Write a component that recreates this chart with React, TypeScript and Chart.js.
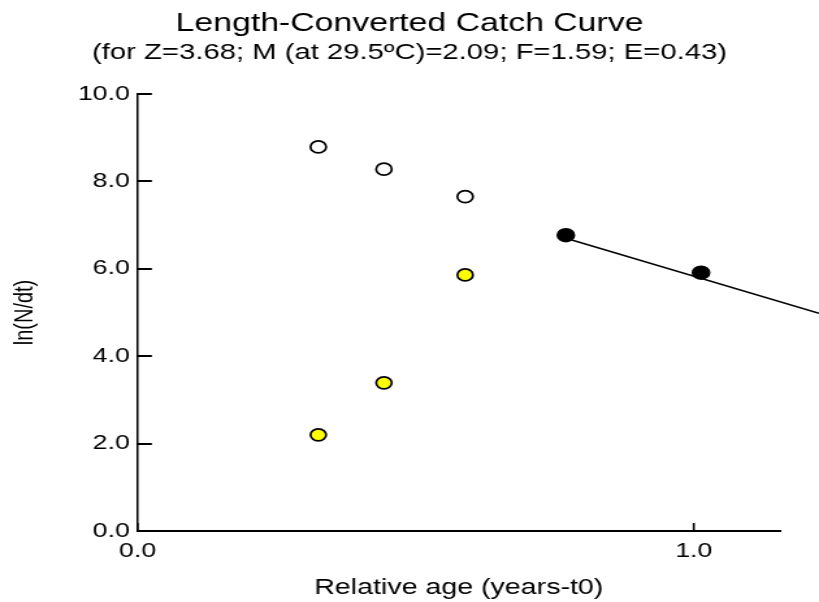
import React, { useEffect, useRef } from 'react';
import { Chart, registerables } from 'chart.js';

Chart.register(...registerables);

// ---- text ----
const TITLE = 'Length-Converted Catch Curve';
const SUBTITLE = '(for Z=3.68; M (at 29.5ºC)=2.09; F=1.59; E=0.43)';
const X_TITLE = 'Relative age (years-t0)';
const Y_TITLE = 'ln(N/dt)';

// ---- data ----
const ageLeft = [0.325, 0.443, 0.589];          // relative age of left-side points
const lnNdtOpen = [8.79, 8.28, 7.65];           // open circles (not used in regression)
const lnNdtYellow = [2.2, 3.39, 5.86];          // yellow circles (corrected)
const ageUsed = [0.77, 1.013];                  // points used in regression
const lnNdtUsed = [6.77, 5.91];
const regAge = [0.77, 1.225];                   // regression line end points
const regLnNdt = [6.7, 4.98];
const xTickValues = [0, 1];
const yTickValues = [0, 2, 4, 6, 8, 10];
const X_MIN = 0;
const X_MAX = 1.155;
const Y_MIN = 0;
const Y_MAX = 10;

// ---- layout (logical canvas stretched horizontally) ----
const LOGICAL_W = 630;
const SCREEN_W = 819;
const H = 602;
const FONT = "'Liberation Sans', Arial, Helvetica, sans-serif";

const toPts = (xs: number[], ys: number[]) => xs.map((x, i) => ({ x, y: ys[i] }));

const innerTicks = {
  id: 'innerTicks',
  beforeDatasetsDraw(chart: any) {
    const { ctx, chartArea, scales } = chart;
    ctx.save();
    ctx.strokeStyle = '#000';
    ctx.lineWidth = 2;
    scales.y.ticks.forEach((t: any) => {
      const y = Math.round(scales.y.getPixelForValue(t.value));
      ctx.beginPath();
      ctx.moveTo(chartArea.left, y);
      ctx.lineTo(chartArea.left + 11, y);
      ctx.stroke();
    });
    ctx.lineWidth = 1.6;
    scales.x.ticks.forEach((t: any) => {
      const x = scales.x.getPixelForValue(t.value);
      ctx.beginPath();
      ctx.moveTo(x, chartArea.bottom);
      ctx.lineTo(x, chartArea.bottom - 8);
      ctx.stroke();
    });
    ctx.restore();
  },
};

export default function App() {
  const ref = useRef<HTMLCanvasElement>(null);

  useEffect(() => {
    if (!ref.current) return;
    Chart.defaults.color = '#000';
    const chart = new Chart(ref.current, {
      type: 'scatter',
      data: {
        datasets: [
          {
            label: 'regression',
            data: toPts(regAge, regLnNdt),
            showLine: true,
            borderColor: '#000',
            borderWidth: 1.5,
            pointRadius: 0,
            clip: false as any,
            order: 10,
          },
          {
            label: 'open',
            data: toPts(ageLeft, lnNdtOpen),
            backgroundColor: '#ffffff',
            borderColor: '#000',
            borderWidth: 1.7,
            pointRadius: 6,
            order: 1,
          },
          {
            label: 'corrected',
            data: toPts(ageLeft, lnNdtYellow),
            backgroundColor: '#ffff00',
            borderColor: '#000',
            borderWidth: 1.7,
            pointRadius: 6,
            order: 1,
          },
          {
            label: 'used',
            data: toPts(ageUsed, lnNdtUsed),
            backgroundColor: '#000',
            borderColor: '#000',
            borderWidth: 1.7,
            pointRadius: 6.4,
            order: 1,
          },
        ],
      },
      options: {
        responsive: false,
        animation: false,
        layout: { padding: 0 },
        plugins: {
          legend: { display: false },
          tooltip: { enabled: false },
          title: {
            display: true,
            text: TITLE,
            color: '#000',
            font: { family: FONT, size: 26, weight: 'normal' },
            padding: { top: 8, bottom: 0 },
          },
          subtitle: {
            display: true,
            text: SUBTITLE,
            color: '#000',
            font: { family: FONT, size: 22.5, weight: 'normal' },
            padding: { top: 0, bottom: 27.8 },
          },
        },
        scales: {
          x: {
            type: 'linear',
            position: 'bottom',
            min: X_MIN,
            max: X_MAX,
            afterBuildTicks: (s: any) => {
              s.ticks = xTickValues.map((v) => ({ value: v }));
            },
            afterFit: (s: any) => {
              s.height = 71;
            },
            grid: { display: true, drawOnChartArea: false, drawTicks: false, color: 'rgba(0,0,0,0)' },
            border: { display: true, color: '#000', width: 2 },
            ticks: {
              color: '#000',
              padding: 8,
              font: { family: FONT, size: 20.5 },
              callback: (v: any) => Number(v).toFixed(1),
            },
            title: {
              display: true,
              text: X_TITLE,
              color: '#000',
              font: { family: FONT, size: 22 },
              padding: { top: 0, bottom: 1 },
            },
          },
          y: {
            type: 'linear',
            position: 'left',
            min: Y_MIN,
            max: Y_MAX,
            afterBuildTicks: (s: any) => {
              s.ticks = yTickValues.map((v) => ({ value: v }));
            },
            afterFit: (s: any) => {
              s.width = 105.8;
            },
            grid: { display: true, drawOnChartArea: false, drawTicks: false, color: 'rgba(0,0,0,0)' },
            border: { display: true, color: '#000', width: 1.5 },
            ticks: {
              color: '#000',
              padding: 6,
              font: { family: FONT, size: 20.5 },
              callback: (v: any) => Number(v).toFixed(1),
            },
            title: {
              display: true,
              text: Y_TITLE,
              color: '#000',
              font: { family: FONT, size: 20 },
              padding: { top: 7, bottom: 0 },
            },
          },
          spacer: {
            type: 'linear',
            position: 'right',
            display: true,
            grid: { display: false },
            border: { display: false },
            ticks: { display: false },
            afterFit: (s: any) => {
              s.width = 30;
            },
          },
        },
      } as any,
      plugins: [innerTicks],
    });
    return () => chart.destroy();
  }, []);

  return (
    <div style={{ position: 'absolute', left: 0, top: 0, width: SCREEN_W, height: H, background: '#fff' }}>
      <canvas
        ref={ref}
        width={LOGICAL_W}
        height={H}
        style={{ width: SCREEN_W + 'px', height: H + 'px', display: 'block' }}
      />
    </div>
  );
}
